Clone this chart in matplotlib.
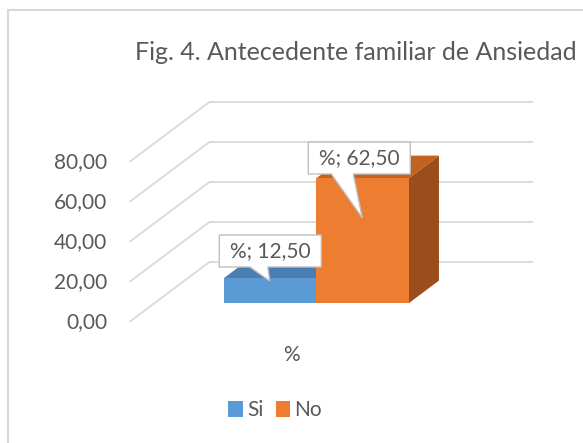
import matplotlib
matplotlib.use("Agg")
import matplotlib.pyplot as plt
from matplotlib.patches import Polygon, Patch
from matplotlib.lines import Line2D

# ---- data ----
categories = ["Si", "No"]
values = [12.50, 62.50]
tick_values = [0, 20, 40, 60, 80]
tick_labels = ["0,00", "20,00", "40,00", "60,00", "80,00"]
title = "Fig. 4. Antecedente familiar de Ansiedad"
axis_label = "%"
label_texts = ["%; 12,50", "%; 62,50"]

# ---- styles ----
front_colors = ["#5B9BD5", "#ED7D31"]
top_colors = ["#4A7EB2", "#C3621F"]
side_colors = ["#3E6A96", "#9B4E1C"]
grid_color = "#D9D9D9"
text_color = "#595959"
FONT = "Lato"

W_PX, H_PX = 583, 443
fig = plt.figure(figsize=(W_PX / 100, H_PX / 100), dpi=100)
ax = fig.add_axes([0, 0, 1, 1])
ax.axis("off")

# layout: pixel scale of the axes
PX = 92.5      # px per category unit
PY = 2.0       # px per value unit
XC0 = 245.0    # px of category 0 centre on the front plane
Y0 = 322.0     # px (from top) of value 0 on the front plane
ax.set_xlim((0 - XC0) / PX, (W_PX - XC0) / PX)
ax.set_ylim((Y0 - H_PX) / PY, (Y0 - 0) / PY)

DX = 80 / PX   # full depth offset in x units
DV = 60 / PY   # full depth offset in value units
d1, d2 = 0.31, 0.69
xL, xR = 0.5 - 1.75, 0.5 + 1.75

# gridlines (side wall + back wall)
for v in tick_values:
    ax.plot([xL, xL + DX, xR + DX], [v, v + DV, v + DV], color=grid_color,
            lw=1.3, solid_capstyle="butt", zorder=1)
for v, lab in zip(tick_values, tick_labels):
    ax.text(xL - 22 / PX, v, lab, ha="right", va="center", fontsize=15,
            color=text_color, family=FONT)

# bars
xs = list(range(len(values)))
fx = [x + d1 * DX for x in xs]
bars = ax.bar(fx, values, width=1.0, bottom=d1 * DV, color=front_colors,
              edgecolor="none", zorder=3)
bars[1].set_zorder(5)
for i, (x, v) in enumerate(zip(xs, values)):
    l = x - 0.5
    r = x + 0.5
    top = [(l + d1 * DX, v + d1 * DV), (r + d1 * DX, v + d1 * DV),
           (r + d2 * DX, v + d2 * DV), (l + d2 * DX, v + d2 * DV)]
    side = [(r + d1 * DX, d1 * DV), (r + d2 * DX, d2 * DV),
            (r + d2 * DX, v + d2 * DV), (r + d1 * DX, v + d1 * DV)]
    ax.add_patch(Polygon(side, closed=True, fc=side_colors[i], ec="none", zorder=2 + i * 2))
    ax.add_patch(Polygon(top, closed=True, fc=top_colors[i], ec="none", zorder=2 + i * 2))

# callout labels
tip_drop = [1.3, 19.8]                  # value units below front-top edge
box_off = [(0.5, -30), (-3, -60)]       # box centre relative to tip (px)
box_size = (102, 32)
base = [(-20, -2), (-31, -9)]           # pointer base x range relative to tip (px)
for i, (x, v) in enumerate(zip(xs, values)):
    tx = x + d1 * DX
    tv = v + d1 * DV - tip_drop[i]
    cx, cy = box_off[i]
    bw, bh = box_size
    left, right = cx - bw / 2, cx + bw / 2
    topy, boty = cy - bh / 2, cy + bh / 2
    pts_px = [(left, topy), (right, topy), (right, boty), (base[i][1], boty),
              (0, 0), (base[i][0], boty), (left, boty)]
    pts = [(tx + px / PX, tv - py / PY) for px, py in pts_px]
    ax.add_patch(Polygon(pts, closed=True, fc="white", ec="#BFBFBF", lw=1.0, zorder=10))
    ax.text(tx + cx / PX, tv - cy / PY, label_texts[i], ha="center", va="center",
            fontsize=15, color=text_color, family=FONT, zorder=11)

# category axis label
ax.text(0.5, -33 / PY, axis_label, ha="center", va="center", fontsize=15,
        color=text_color, family=FONT)

# title
fig.text(135 / W_PX, 1 - 53 / H_PX, title, ha="left", va="center", fontsize=18,
         color=text_color, family=FONT)

# legend
handles = [Patch(facecolor=c, edgecolor="none") for c in front_colors]
leg = fig.legend(handles, categories, loc="center", ncol=2,
                 bbox_to_anchor=(275 / W_PX, 1 - 410 / H_PX), frameon=False,
                 handlelength=0.7, handleheight=0.8, handletextpad=0.2,
                 columnspacing=0.6, borderpad=0, borderaxespad=0,
                 prop={"family": FONT, "size": 15})
for t in leg.get_texts():
    t.set_color(text_color)

# chart border
fig.add_artist(Line2D([7.5 / W_PX, 7.5 / W_PX], [0, 1 - 10 / H_PX], color="#D9D9D9", lw=1.5))
fig.add_artist(Line2D([7.5 / W_PX, 1], [1 - 10 / H_PX, 1 - 10 / H_PX], color="#D9D9D9", lw=1.5))

fig.savefig("out.png", dpi=100)
